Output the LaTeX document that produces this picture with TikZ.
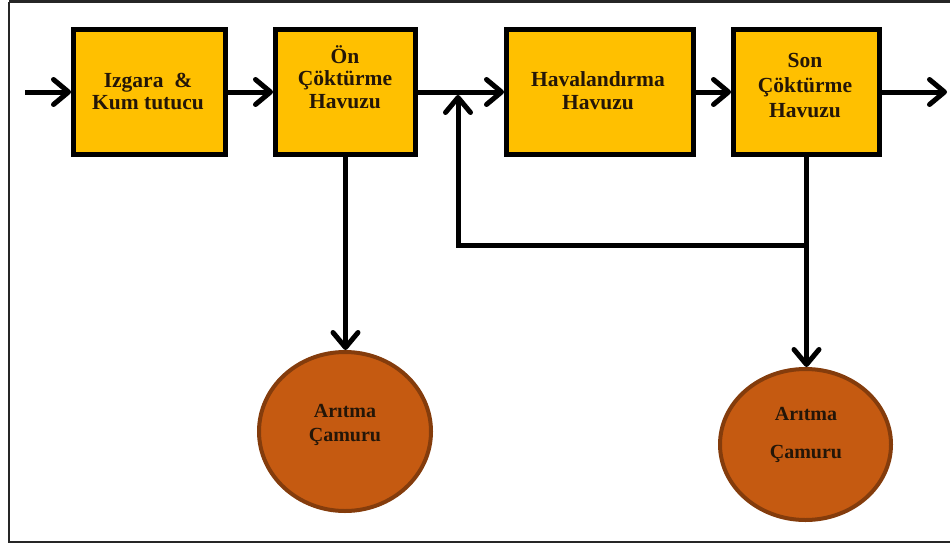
\documentclass[tikz,border=0pt]{standalone}
\usepackage{fontspec}
\setmainfont{Liberation Serif}
\usetikzlibrary{arrows.meta,shapes.geometric}

\definecolor{boxgold}{HTML}{FFC000}
\definecolor{sludge}{HTML}{C55A11}
\definecolor{sludgeedge}{HTML}{843C0C}
\definecolor{ink}{HTML}{241608}

\tikzset{
  unit/.style={draw=black, fill=boxgold, line width=5pt, inner sep=0pt},
  tank/.style={ellipse, draw=sludgeedge, fill=sludge, line width=4pt, inner sep=0pt},
  boxtext/.style={text=ink, align=center, inner sep=0pt,
    font=\fontsize{21.5}{22.5}\selectfont\bfseries},
  tanktext/.style={text=ink, align=center, inner sep=0pt,
    font=\fontsize{20}{24}\selectfont\bfseries},
  flow/.style={draw=black, line width=5pt,
    -{Straight Barb[length=15pt,width=25pt,round]}},
  pipe/.style={draw=black, line width=5pt}
}

\begin{document}
\begin{tikzpicture}[x=1pt,y=-1pt]
  \useasboundingbox (0,0) rectangle (950,544);
  % frame
  \draw[line width=2.5pt, draw=black!85] (9,1.5) -- (953,1.5);
  \draw[line width=2.5pt, draw=black!85] (9,1.5) -- (9,542) -- (953,542);

  % treatment units
  \node[unit, minimum width=152pt, minimum height=125pt] (b1) at (149.5,92) {};
  \node[unit, minimum width=140pt, minimum height=125pt] (b2) at (345.5,92) {};
  \node[unit, minimum width=187pt, minimum height=125pt] (b3) at (600,92) {};
  \node[unit, minimum width=146pt, minimum height=125pt] (b4) at (806.5,92) {};

  \node[boxtext] (t1) at (148,94) {\strut Izgara \ \&\\Kum tutucu\strut};
  \node[boxtext] (t2) at (345,80) {\strut Ön\\Çöktürme\\Havuzu\strut};
  \node[boxtext] (t3) at (598,93.5) {\strut Havalandırma\\Havuzu\strut};
  \node[boxtext, font=\fontsize{21.5}{25}\selectfont\bfseries] (t4) at (805,87) {\strut Son\\Çöktürme\\Havuzu\strut};

  % sludge tanks
  \node[tank, minimum width=172pt, minimum height=159pt] (e1) at (345,431.5) {};
  \node[tank, minimum width=171pt, minimum height=151pt] (e2) at (805.5,444.5) {};

  \node[tanktext] (t5) at (345,425) {\strut Arıtma\\Çamuru\strut};
  \node[tanktext, font=\fontsize{20}{38}\selectfont\bfseries] (t6) at (806,431.5) {\strut Arıtma\\Çamuru\strut};

  % connector helpers
  \coordinate (inlet) at (25,92);
  \coordinate (outlet) at (947,92);
  \coordinate (corner) at (458,245);
  \coordinate (merge) at (458,95);
  \coordinate (split) at (b4.south |- corner);

  % main flow line
  \draw[flow] (inlet) -- (b1.west);
  \draw[flow] (b1.east) -- (b2.west);
  \draw[flow] (b2.east) -- (b3.west);
  \draw[flow] (b3.east) -- (b4.west);
  \draw[flow] (b4.east) -- (outlet);

  % sludge withdrawal
  \draw[flow] (b2.south) -- (b2.south |- e1.north);
  \draw[flow] (b4.south) -- (b4.south |- e2.north);

  % return sludge line
  \draw[flow, line join=miter] (split) -- (corner) -- (merge);
\end{tikzpicture}
\end{document}
